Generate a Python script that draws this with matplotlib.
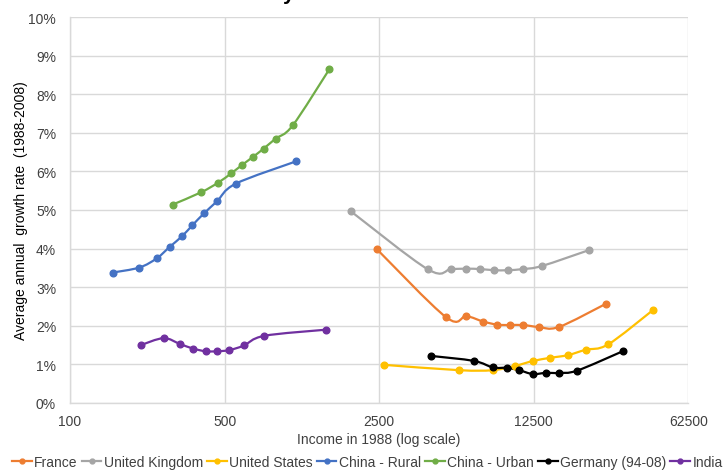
import numpy as np
import matplotlib
matplotlib.use("Agg")
import matplotlib.pyplot as plt
from matplotlib.path import Path
from matplotlib.patches import PathPatch
from matplotlib.lines import Line2D
from matplotlib.ticker import FixedLocator, FixedFormatter, FuncFormatter, NullLocator

plt.rcParams['font.family'] = ['Liberation Sans', 'DejaVu Sans']

# ---- data (income in 1988, annual growth rate %) ----
france_x = [2436, 5025, 6190, 7384, 8546, 9755, 11200, 13160, 16250, 26500]
france_y = [3.99, 2.22, 2.25, 2.11, 2.03, 2.02, 2.02, 1.97, 1.97, 2.57]

uk_x = [1858, 4160, 5280, 6190, 7160, 8290, 9530, 11170, 13620, 22200]
uk_y = [4.97, 3.46, 3.47, 3.48, 3.47, 3.44, 3.44, 3.47, 3.55, 3.96]

us_x = [2618, 5750, 8145, 10270, 12430, 14840, 17840, 21500, 27160, 43100]
us_y = [0.99, 0.85, 0.85, 0.96, 1.09, 1.17, 1.24, 1.38, 1.52, 2.40]

rural_x = [156, 206, 247, 283, 321, 357, 403, 463, 561, 1052]
rural_y = [3.38, 3.51, 3.75, 4.05, 4.32, 4.60, 4.91, 5.23, 5.68, 6.26]

urban_x = [291, 392, 468, 536, 601, 670, 751, 851, 1016, 1486]
urban_y = [5.14, 5.46, 5.71, 5.95, 6.17, 6.37, 6.59, 6.85, 7.19, 8.64]

germany_x = [4287, 6710, 8175, 9460, 10750, 12360, 14150, 16250, 19660, 31560]
germany_y = [1.22, 1.09, 0.92, 0.91, 0.85, 0.75, 0.78, 0.78, 0.84, 1.34]

india_x = [209, 265, 314, 360, 411, 463, 525, 612, 756, 1441]
india_y = [1.50, 1.68, 1.53, 1.41, 1.34, 1.34, 1.37, 1.49, 1.74, 1.90]

series = [
    ("France", france_x, france_y, "#ED7D31"),
    ("United Kingdom", uk_x, uk_y, "#A5A5A5"),
    ("United States", us_x, us_y, "#FFC000"),
    ("China - Rural", rural_x, rural_y, "#4472C4"),
    ("China - Urban", urban_x, urban_y, "#70AD47"),
    ("Germany (94-08)", germany_x, germany_y, "#000000"),
    ("India", india_x, india_y, "#7030A0"),
]

x_ticks = [100, 500, 2500, 12500, 62500]
x_tick_labels = ["100", "500", "2500", "12500", "62500"]
y_ticks = list(range(0, 11))

title_fragment = "y"
x_label = "Income in 1988 (log scale)"
y_label = "Average annual  growth rate  (1988-2008)"


def smooth_path(xs, ys):
    """Excel-style smoothed line: cubic Bezier segments (Catmull-Rom control
    points) computed in log-x space; matplotlib draws the curves."""
    lx = np.log10(np.asarray(xs, float))
    ly = np.asarray(ys, float)
    n = len(lx)
    verts = [(xs[0], ys[0])]
    codes = [Path.MOVETO]
    for i in range(n - 1):
        i0 = max(i - 1, 0)
        i3 = min(i + 2, n - 1)
        c1x = lx[i] + (lx[i + 1] - lx[i0]) / 6.0
        c1y = ly[i] + (ly[i + 1] - ly[i0]) / 6.0
        c2x = lx[i + 1] - (lx[i3] - lx[i]) / 6.0
        c2y = ly[i + 1] - (ly[i3] - ly[i]) / 6.0
        verts += [(10 ** c1x, c1y), (10 ** c2x, c2y), (xs[i + 1], ys[i + 1])]
        codes += [Path.CURVE4] * 3
    return Path(verts, codes)


fig = plt.figure(figsize=(7.24, 4.77), dpi=100)
ax = fig.add_axes([70 / 724, 1 - 404 / 477, (688.3 - 70) / 724, (404 - 18) / 477])

ax.set_xscale("log")
ax.set_xlim(100, 62500)
ax.set_ylim(0, 10)

handles = []
for name, xs, ys, col in series:
    patch = PathPatch(smooth_path(xs, ys), facecolor="none", edgecolor=col,
                      lw=1.6, zorder=3, capstyle="round", joinstyle="round")
    ax.add_patch(patch)
    ax.plot(xs, ys, linestyle="none", marker="o", markersize=4.8, color=col, zorder=4)
    handles.append(Line2D([0], [0], color=col, lw=1.6, marker="o", markersize=3.5))

ax.xaxis.set_major_locator(FixedLocator(x_ticks))
ax.xaxis.set_major_formatter(FixedFormatter(x_tick_labels))
ax.xaxis.set_minor_locator(NullLocator())
ax.yaxis.set_major_locator(FixedLocator(y_ticks))
ax.yaxis.set_major_formatter(FuncFormatter(lambda v, p: f"{int(round(v))}%"))

ax.grid(True, which="major", color="#D9D9D9", lw=1.0, zorder=0)
ax.set_axisbelow(True)
for s in ["top", "right"]:
    ax.spines[s].set_visible(False)
for s in ["left", "bottom"]:
    ax.spines[s].set_color("#D9D9D9")
    ax.spines[s].set_linewidth(1.0)
ax.tick_params(axis="both", length=0, labelsize=10, colors="#404040")
ax.tick_params(axis="x", pad=8)
ax.tick_params(axis="y", pad=10)

ax.set_xlabel(x_label, fontsize=10, color="#404040")
ax.set_ylabel(y_label, fontsize=10, color="#000000")
ax.xaxis.set_label_coords(0.5, (404 - 440) / 386, transform=ax.transAxes)
ax.yaxis.set_label_coords((21 - 70) / 618.3, 0.5, transform=ax.transAxes)
ax.xaxis.label.set_va("center")
ax.yaxis.label.set_va("center")

fig.legend(handles, [s[0] for s in series], loc="center", bbox_to_anchor=(367.5 / 724, 1 - 463 / 477),
           ncol=7, frameon=False, fontsize=10, handlelength=1.4, handletextpad=0.18,
           columnspacing=0.3, labelcolor="#404040", borderpad=0, borderaxespad=0)

fig.text(283 / 724, 1.0, title_fragment, fontsize=15, fontweight="bold",
         ha="left", va="baseline", color="#000000")

fig.savefig("out.png", dpi=100)
